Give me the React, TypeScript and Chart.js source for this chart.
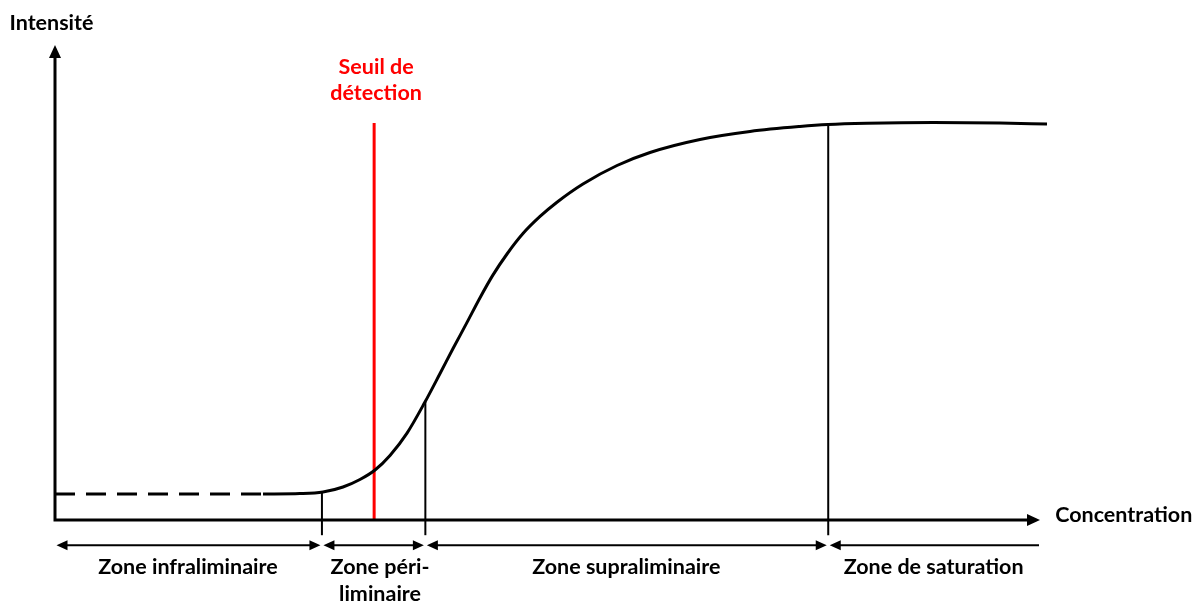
import React, { useEffect, useRef } from "react";
import { Chart, registerables } from "chart.js";
Chart.register(...registerables);

// Scale ranges (arbitrary units: concentration / intensity)
const X_MIN = 0;
const X_MAX = 100;
const Y_MIN = 0;
const Y_MAX = 100;

// Dashed baseline (extrapolated low-concentration part)
const dashedX = [0, 21.1];
const dashedY = [5.47, 5.47];

// Sigmoid response curve
const curveX = [21.12, 24.87, 27.21, 29.24, 30.96, 32.49, 34.01, 35.74, 37.56, 39.09, 40.41, 41.83, 43.15, 44.47, 45.89, 47.51, 49.24, 50.96, 53.6, 57.06, 60.41, 65.48, 70.56, 75.63, 78.48, 82.44, 89.14, 95.94, 100.71];
const curveY = [5.47, 5.56, 5.89, 6.95, 8.53, 10.53, 13.6, 18.3, 24.84, 30.84, 36.1, 41.6, 46.8, 51.6, 56.0, 60.3, 63.9, 66.9, 70.74, 74.63, 77.37, 80.11, 81.79, 82.84, 83.26, 83.52, 83.68, 83.58, 83.37];

// Detection threshold
const thresholdX = 32.4;
const thresholdTop = 83.6;
const thresholdLabel = ["Seuil de", "détection"];
const thresholdLabelX = 32.6;
const thresholdLabelY = [95.4, 89.9];

// Zone boundaries
const boundaryX = [27.1, 37.6, 78.5];
const boundaryTop = [5.89, 24.84, 83.26];
const boundaryBottom = -3.2;

const zoneBounds = [0, 27.1, 37.6, 78.5, 100];
const zoneRightHead = [true, true, true, false];
const zoneArrowY = -5.3;
const zoneLabels = [["Zone infraliminaire"], ["Zone péri-", "liminaire"], ["Zone supraliminaire"], ["Zone de saturation"]];
const zoneLabelX = [13.5, 33.0, 58.0, 89.2];
const zoneLabelY = [-9.9, -15.6];

// Axis titles
const yTitle = "Intensité";
const yTitlePos = [-0.36, 104.6];
const xTitle = "Concentration";
const xTitlePos = [108.5, 1.1];

const FONT = "bold 21.5px Lato, 'Open Sans', sans-serif";
const RED = "#ff0000";

function head(ctx: CanvasRenderingContext2D, tx: number, ty: number, dir: string, len: number, hw: number) {
  ctx.beginPath();
  if (dir === "up") {
    ctx.moveTo(tx, ty);
    ctx.lineTo(tx - hw, ty + len);
    ctx.lineTo(tx + hw, ty + len);
  } else if (dir === "right") {
    ctx.moveTo(tx, ty);
    ctx.lineTo(tx - len, ty - hw);
    ctx.lineTo(tx - len, ty + hw);
  } else {
    ctx.moveTo(tx, ty);
    ctx.lineTo(tx + len, ty - hw);
    ctx.lineTo(tx + len, ty + hw);
  }
  ctx.closePath();
  ctx.fill();
}

const overlay = {
  id: "overlay",
  afterDatasetsDraw(chart: any) {
    const ctx: CanvasRenderingContext2D = chart.ctx;
    const xs = chart.scales.x;
    const ys = chart.scales.y;
    const X = (v: number) => xs.getPixelForValue(v);
    const Y = (v: number) => ys.getPixelForValue(v);
    ctx.save();
    ctx.strokeStyle = "#000";
    ctx.fillStyle = "#000";

    // axes with arrows
    const x0 = X(X_MIN), y0 = Y(Y_MIN), yTop = Y(Y_MAX), xEnd = X(X_MAX);
    ctx.lineWidth = 3;
    ctx.lineJoin = "miter";
    ctx.lineCap = "butt";
    ctx.beginPath();
    ctx.moveTo(x0, yTop + 10);
    ctx.lineTo(x0, y0);
    ctx.lineTo(xEnd - 10, y0);
    ctx.stroke();
    head(ctx, x0, yTop, "up", 13, 6);
    head(ctx, xEnd, y0, "right", 13, 6);

    // zone double arrows
    ctx.lineWidth = 2;
    const ay = Y(zoneArrowY);
    for (let i = 0; i < zoneBounds.length - 1; i++) {
      const a = X(zoneBounds[i]) + 1.5;
      const b = X(zoneBounds[i + 1]) - (zoneRightHead[i] ? 1.5 : 1);
      ctx.beginPath();
      ctx.moveTo(a + 6, ay);
      ctx.lineTo(zoneRightHead[i] ? b - 6 : b, ay);
      ctx.stroke();
      head(ctx, a, ay, "left", 11, 5);
      if (zoneRightHead[i]) head(ctx, b, ay, "right", 11, 5);
    }

    // texts
    ctx.font = FONT;
    ctx.textAlign = "center";
    ctx.textBaseline = "middle";
    ctx.fillStyle = "#000";
    for (let i = 0; i < zoneLabels.length; i++) {
      zoneLabels[i].forEach((t, j) => ctx.fillText(t, X(zoneLabelX[i]), Y(zoneLabelY[j])));
    }
    ctx.fillText(yTitle, X(yTitlePos[0]), Y(yTitlePos[1]));
    ctx.fillText(xTitle, X(xTitlePos[0]), Y(xTitlePos[1]));
    ctx.fillStyle = RED;
    thresholdLabel.forEach((t, j) => ctx.fillText(t, X(thresholdLabelX), Y(thresholdLabelY[j])));
    ctx.restore();
  },
};

export default function App() {
  const ref = useRef<HTMLCanvasElement>(null);
  useEffect(() => {
    if (!ref.current) return;
    const pts = (xa: number[], ya: number[]) => xa.map((x, i) => ({ x, y: ya[i] }));
    const vline = (x: number, top: number, bottom: number) => [{ x, y: bottom }, { x, y: top }];
    const base = { pointRadius: 0, fill: false, clip: false as any, borderColor: "#000" };
    const datasets: any[] = [
      { ...base, data: pts(dashedX, dashedY), borderWidth: 3, borderDash: [20, 11] },
      { ...base, data: pts(curveX, curveY), borderWidth: 3, cubicInterpolationMode: "monotone" },
      ...boundaryX.map((bx, i) => ({ ...base, data: vline(bx, boundaryTop[i], boundaryBottom), borderWidth: 2 })),
      { ...base, data: vline(thresholdX, thresholdTop, Y_MIN), borderWidth: 3, borderColor: RED },
    ];
    const chart = new Chart(ref.current, {
      type: "line",
      data: { datasets },
      options: {
        animation: false,
        responsive: false,
        events: [],
        layout: { padding: { left: 55, right: 162, top: 45, bottom: 84 } },
        plugins: { legend: { display: false }, tooltip: { enabled: false } },
        scales: {
          x: { type: "linear", min: X_MIN, max: X_MAX, display: false },
          y: { type: "linear", min: Y_MIN, max: Y_MAX, display: false },
        },
      },
      plugins: [overlay],
    });
    return () => chart.destroy();
  }, []);
  return (
    <div style={{ position: "fixed", left: 0, top: 0, width: 1202, height: 604, background: "#fff" }}>
      <canvas ref={ref} width={1202} height={604} />
    </div>
  );
}
